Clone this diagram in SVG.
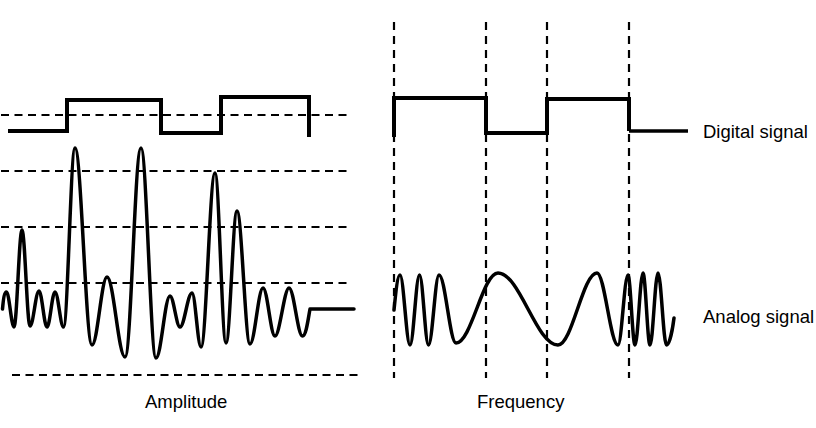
<svg xmlns="http://www.w3.org/2000/svg" width="816" height="428" viewBox="0 0 816 428">
<style>
.dash{stroke:#000;stroke-width:2.2;stroke-dasharray:8 5.5;fill:none}
.vdash{stroke:#000;stroke-width:2.2;stroke-dasharray:8 6;fill:none}
.dig{stroke:#000;stroke-width:4;fill:none;stroke-linejoin:miter;stroke-linecap:butt}
.ana{stroke:#000;stroke-width:3.5;fill:none;stroke-linejoin:round;stroke-linecap:round}
.lbl{font-family:"Liberation Sans",Arial,sans-serif;font-size:18.5px;fill:#000}
</style>
<rect width="816" height="428" fill="#fff"/>
<g id="connectors">
  <g id="amplitude-grid">
    <line class="dash" x1="1" y1="115" x2="352" y2="115"/>
    <line class="dash" x1="1" y1="171" x2="352" y2="171"/>
    <line class="dash" x1="1" y1="227" x2="352" y2="227"/>
    <line class="dash" x1="1" y1="283" x2="352" y2="283"/>
    <line class="dash" x1="12" y1="375" x2="362" y2="375"/>
  </g>
  <g id="frequency-grid">
    <line class="vdash" x1="394" y1="22" x2="394" y2="378"/>
    <line class="vdash" x1="486" y1="22" x2="486" y2="378"/>
    <line class="vdash" x1="547" y1="22" x2="547" y2="378"/>
    <line class="vdash" x1="629" y1="22" x2="629" y2="378"/>
  </g>
</g>
<g id="amplitude-digital">
  <path class="dig" d="M8,131 H67 V100 H161 V133 H221 V97 H309 V137"/>
</g>
<g id="amplitude-analog">
  <path class="ana" d="M2.5,309 C3.5,298 4.5,292 6.5,292
  C9.2,292 11.3,327 14,327
  C16.9,327 19.1,230 22,230
  C24.9,230 27.1,326 30,326
  C33.3,326 35.7,291 39,291
  C41.9,291 44.1,327 47,327
  C49.9,327 52.1,292 55,292
  C58.1,292 60.4,327 63.5,327
  C67.7,327 70.8,148 75,148
  C81.2,148 85.8,345 92,345
  C97.5,345 101.5,277 107,277
  C113.6,277 118.4,357 125,357
  C131.2,357 134.8,148 141,148
  C146.5,148 150.5,358 156,358
  C161.1,358 164.9,296 170,296
  C173.6,296 176.4,327 180,327
  C184.4,327 187.6,293 192,293
  C195.3,293 197.7,347 201,347
  C206.1,347 209.9,173 215,173
  C219,173 222,343 226,343
  C230,343 233,211 237,211
  C241.7,211 245.3,344 250,344
  C254.7,344 258.3,288 263,288
  C267.4,288 270.6,336 275,336
  C279.7,336 284.3,288 289,288
  C293.9,288 297.6,336 302.5,336
  C306,336 308,320 310,309 L354,309"/>
</g>
<g id="frequency-digital">
  <path class="dig" d="M394,137 V98 H486 V133 H547 V99 H629 V131"/>
  <path class="dig" d="M629,131 H688" style="stroke-width:3.5"/>
</g>
<g id="frequency-analog">
  <path class="ana" d="M394,310 C396,290 397.8,275 400,275
  C403.6,275 406.4,345 410,345
  C413.5,345 416,275 419.5,275
  C422.8,275 425.2,345 428.5,345
  C432.3,345 435.2,275 439,275
  C445.2,275 449.8,343 456,343
  C471.3,343 482.7,273 498,273
  C519.8,273 536.2,345 558,345
  C572.2,345 582.8,273 597,273
  C604.6,273 610.4,345 618,345
  C621.6,345 624.4,275 628,275
  C630.5,275 632.5,345 635,345
  C637.9,345 640.1,273 643,273
  C645.5,273 647.5,345 650,345
  C652.9,345 655.1,273 658,273
  C661.1,273 663.4,345 666.5,345
  C669.5,345 672.5,330 674,318"/>
</g>
<g id="label-digital"><text class="lbl" x="703" y="138">Digital signal</text></g>
<g id="label-analog"><text class="lbl" x="703" y="323">Analog signal</text></g>
<g id="label-amplitude"><text class="lbl" x="145" y="408">Amplitude</text></g>
<g id="label-frequency"><text class="lbl" x="477" y="408">Frequency</text></g>
</svg>
